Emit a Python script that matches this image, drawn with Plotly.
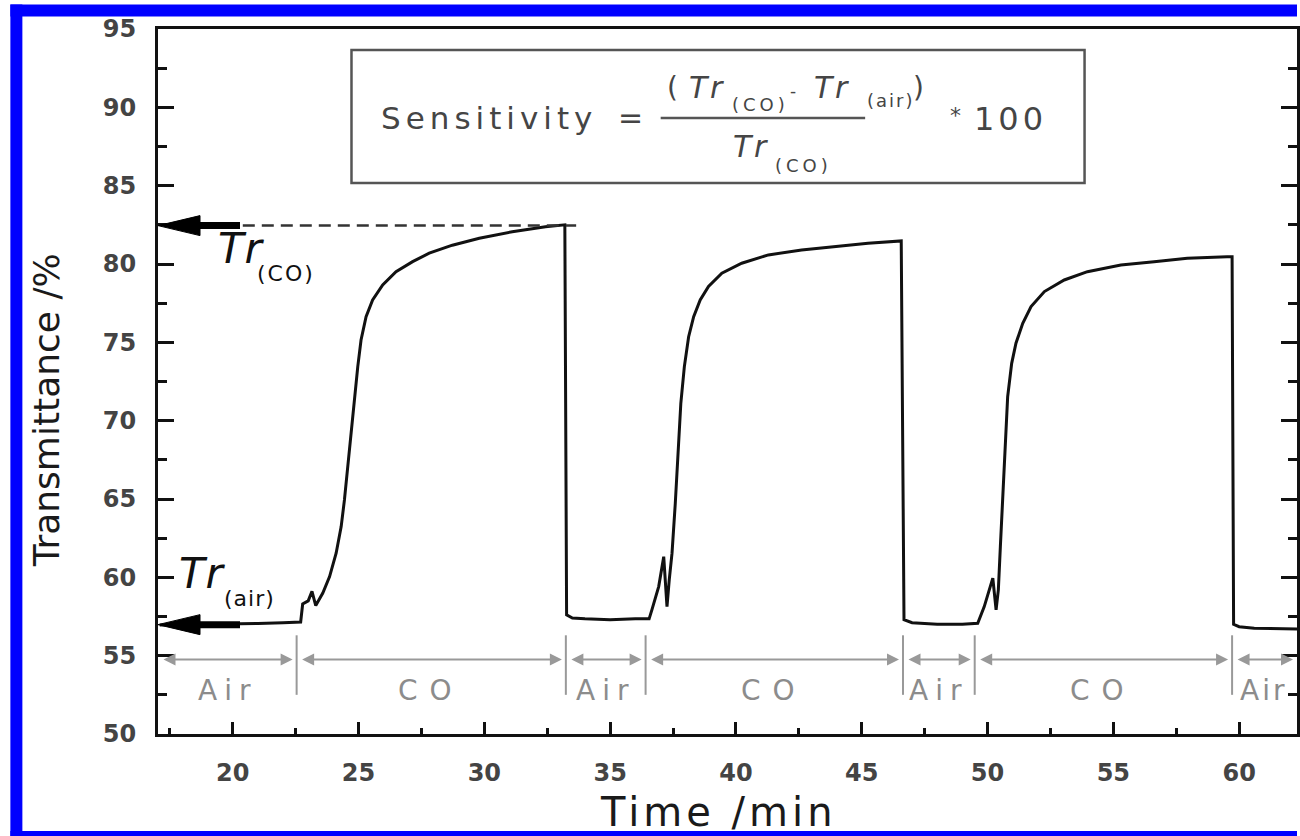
import plotly.graph_objects as go

# Transmittance response (time in min, transmittance in %)
time_min = [17.1, 18.5, 20.0, 21.0, 22.0, 22.7,
            22.78, 23.0, 23.15, 23.3, 23.58, 23.85, 24.11, 24.31, 24.44, 24.57, 24.71,
            24.84, 24.97, 25.1, 25.3, 25.56, 25.96, 26.49, 27.15, 27.81, 28.73, 29.8,
            31.11, 32.43, 33.2,
            33.27, 33.5, 34.0, 35.0, 36.0, 36.55,
            36.66, 36.93, 37.13, 37.26, 37.35, 37.46, 37.59, 37.7, 37.81, 37.95, 38.12,
            38.32, 38.58, 38.91, 39.44, 40.23, 41.29, 42.61, 43.93, 45.25, 46.57,
            46.68, 47.0, 48.0, 49.0, 49.61,
            49.87, 50.07, 50.21, 50.34, 50.43, 50.51, 50.6, 50.69, 50.8, 50.96, 51.13,
            51.4, 51.73, 52.26, 53.05, 53.97, 55.3, 56.62, 57.94, 59.52, 59.72,
            59.78, 60.0, 60.6, 61.5, 62.3]
transmittance = [56.95, 56.97, 57.0, 57.05, 57.1, 57.15,
                 58.3, 58.5, 59.1, 58.2, 59.0, 60.05, 61.54, 63.24, 64.94, 67.07, 69.2,
                 71.3, 73.45, 75.15, 76.64, 77.7, 78.66, 79.51, 80.15, 80.69, 81.2, 81.64,
                 82.06, 82.38, 82.5,
                 57.6, 57.4, 57.35, 57.3, 57.35, 57.35,
                 57.92, 59.41, 61.32, 58.13, 59.84, 61.54, 64.73, 67.92, 71.11, 73.45, 75.36,
                 76.64, 77.7, 78.56, 79.41, 80.05, 80.58, 80.9, 81.11, 81.32, 81.47,
                 57.3, 57.1, 57.0, 57.0, 57.07,
                 58.13, 59.2, 59.95, 57.92, 59.2, 61.96, 65.15, 68.34, 71.53, 73.66, 74.94,
                 76.22, 77.28, 78.24, 78.98, 79.51, 79.94, 80.15, 80.37, 80.47, 80.47,
                 57.0, 56.85, 56.75, 56.7, 56.7]

# gas switching times (min) and the gas flowing in each interval
switch_times = [22.54, 33.24, 36.41, 46.64, 49.49, 59.72]
gas_labels = ["Air", "CO", "Air", "CO", "Air", "CO", "Air"]

tr_co = 82.45   # Tr(CO) level (dashed line)
tr_air = 56.98  # Tr(air) baseline

x_range = [17.03, 62.3]
y_range = [50, 95]
x_ticks = [20, 25, 30, 35, 40, 45, 50, 55, 60]
x_minor = [17.5, 22.5, 27.5, 32.5, 37.5, 42.5, 47.5, 52.5, 57.5, 62.5]
y_ticks = [50, 55, 60, 65, 70, 75, 80, 85, 90, 95]
y_minor = [52.5, 57.5, 62.5, 67.5, 72.5, 77.5, 82.5, 87.5, 92.5]

FONT = "DejaVu Sans"
GREY = "#454545"

# plot area in pixels, used to place the free-floating text
L, R, T, B = 158, 1300, 29, 734


def px(x):
    return (x - L) / (R - L)


def py(y):
    return (B - y) / (B - T)


def spaced(text, gap, italic=False):
    style = "letter-spacing:%spx" % gap
    if italic:
        style += ";font-style:italic"
    return '<span style="%s">%s</span>' % (style, text)


annotations = []
shapes = []


def note(text, x, y, size, color=GREY, xanchor="center", angle=0):
    annotations.append(dict(
        text=text, x=px(x), y=py(y), xref="paper", yref="paper",
        showarrow=False, xanchor=xanchor, yanchor="middle", textangle=angle,
        font=dict(family=FONT, size=size, color=color)))


fig = go.Figure()
fig.add_trace(go.Scatter(
    x=time_min, y=transmittance, mode="lines",
    line=dict(color="#111111", width=3), showlegend=False))

# formula box
shapes.append(dict(type="rect", xref="paper", yref="paper",
                   x0=px(352), x1=px(1087), y0=py(183), y1=py(50),
                   line=dict(color="#555555", width=2.5)))
shapes.append(dict(type="line", xref="paper", yref="paper",
                   x0=px(662), x1=px(867), y0=py(118), y1=py(118),
                   line=dict(color="#555555", width=2.5)))
note(spaced("Sensitivity", 5), 490, 118, 31)
note("=", 632, 118, 30)
note("(", 674, 87, 28)
note(spaced("Tr", 5, True), 709, 87, 30)
note(spaced("(CO)", 4), 762, 104, 18)
note("-", 795, 91, 17)
note(spaced("Tr", 5, True), 835, 87, 30)
note(spaced("(air)", 2), 892, 100, 18)
note(")", 921, 87, 28)
note(spaced("Tr", 5, True), 754, 146, 30)
note(spaced("(CO)", 4), 805, 166, 18)
note("*", 958, 116, 22)
note(spaced("100", 4), 1013, 119, 32)

# Tr(CO) / Tr(air) markers
note(spaced("Tr", 4, True), 242, 248, 42, color="#111111")
note(spaced("(CO)", 2), 286, 273, 22, color="#111111")
note(spaced("Tr", 4, True), 203, 573, 42, color="#111111")
note(spaced("(air)", 1), 250, 598, 22, color="#111111")

shapes.append(dict(type="line", xref="x", yref="y", x0=20.4, x1=33.65,
                   y0=tr_co, y1=tr_co,
                   line=dict(color="#333333", width=2.5, dash="12px,7px")))
for level in (tr_co, tr_air):
    shapes.append(dict(type="path", xref="x", yref="y",
                       xsizemode="pixel", ysizemode="pixel",
                       xanchor=x_range[0], yanchor=level,
                       path="M0,0 L42,10 L42,-10 Z",
                       fillcolor="#000000", line=dict(color="#000000", width=1)))
    shapes.append(dict(type="line", xref="x", yref="y",
                       xsizemode="pixel", xanchor=x_range[0],
                       x0=38, x1=82, y0=level, y1=level,
                       line=dict(color="#000000", width=7)))

# gas switching bars along the bottom
bounds = [x_range[0]] + switch_times + [x_range[1]]
for t in switch_times:
    shapes.append(dict(type="line", xref="x", yref="y", x0=t, x1=t,
                       y0=52.5, y1=56.3, line=dict(color="#999999", width=2)))
for i, gas in enumerate(gas_labels):
    annotations.append(dict(
        x=bounds[i + 1], y=54.75, ax=bounds[i], ay=54.75,
        xref="x", yref="y", axref="x", ayref="y", text="",
        showarrow=True, arrowhead=2, startarrowhead=2, arrowside="end+start",
        arrowsize=1.2, startarrowsize=1.2, arrowwidth=2, arrowcolor="#999999",
        standoff=4, startstandoff=4))
    last = i == len(gas_labels) - 1
    gap = 7 if gas == "Air" else 12
    annotations.append(dict(
        x=bounds[i] + 0.25 if last else (bounds[i] + bounds[i + 1]) / 2,
        y=52.8, xref="x", yref="y", showarrow=False,
        xanchor="left" if last else "center", yanchor="middle",
        text=spaced(gas, 3 if last else gap),
        font=dict(family=FONT, size=28, color="#8c8c8c")))

# axis titles
note("Transmittance /%", 46, 410, 36, color="#1a1a1a", angle=-90)
note(spaced("Time /min", 4), 720, 812, 40, color="#1a1a1a")

# blue frame (left, top and bottom edges; the right edge is off the picture)
frame = dict(color="#0000ff", width=12)
shapes.append(dict(type="line", xref="paper", yref="paper", layer="above",
                   x0=px(16), x1=px(16), y0=py(4.5), y1=py(843), line=frame))
shapes.append(dict(type="line", xref="paper", yref="paper", layer="above",
                   x0=px(10), x1=px(1300), y0=py(10.5), y1=py(10.5), line=frame))
shapes.append(dict(type="line", xref="paper", yref="paper", layer="above",
                   x0=px(10), x1=px(1300), y0=py(837), y1=py(837), line=frame))

axis_common = dict(
    showgrid=False, zeroline=False, showline=True, linecolor="#111111",
    linewidth=3, ticks="inside", tickcolor="#111111", tickwidth=2.5,
    tickfont=dict(family=FONT, size=24, color="#444444", weight="bold"))

fig.update_layout(
    width=1300, height=836,
    margin=dict(l=L, r=1300 - R, t=T, b=836 - B),
    paper_bgcolor="white", plot_bgcolor="white",
    xaxis=dict(range=x_range, tickvals=x_ticks, ticklen=12, mirror=True,
               ticklabelstandoff=15,
               minor=dict(tickvals=x_minor, ticks="inside", ticklen=6,
                          tickwidth=2.5, tickcolor="#111111"),
               **axis_common),
    yaxis=dict(range=y_range, tickvals=y_ticks, ticklen=16, mirror="ticks",
               ticklabelstandoff=14,
               minor=dict(tickvals=y_minor, ticks="inside", ticklen=9,
                          tickwidth=2.5, tickcolor="#111111"),
               **axis_common),
    shapes=shapes,
    annotations=annotations,
)

# the page's default body margin would push the figure 8px off the window
fig.write_html("out.html", config={"displayModeBar": False},
               post_script="document.body.style.margin = '0';")
